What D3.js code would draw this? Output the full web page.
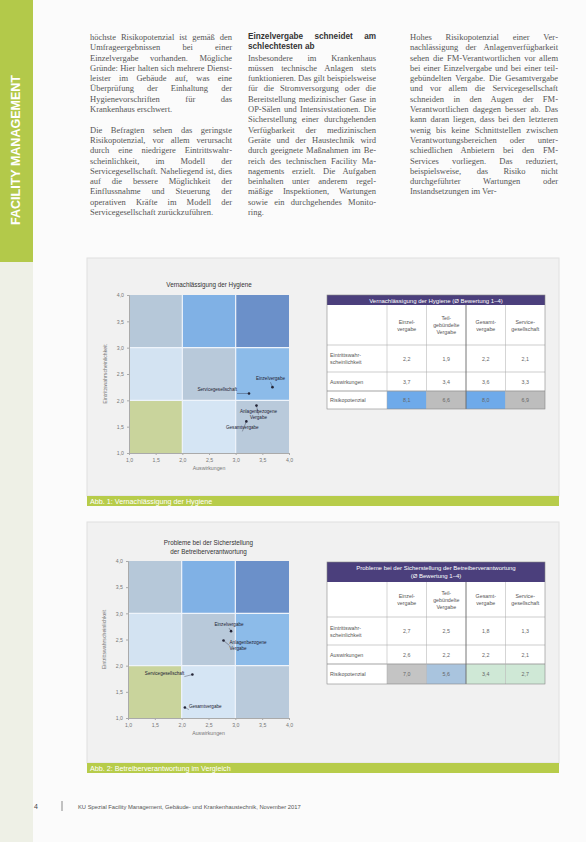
<!DOCTYPE html>
<html><head><meta charset="utf-8">
<script src="https://cdn.jsdelivr.net/npm/d3@7"></script>
<style>
body{margin:0;width:586px;height:842px;background:#fbfbfb;font-family:"Liberation Sans",Arial,sans-serif;position:relative;overflow:hidden}
.col{position:absolute;font-family:"Liberation Serif",serif;font-size:8.5px;line-height:10.3px;color:#555;text-align:justify;hyphens:auto;word-break:break-word}
.col p{margin:0 0 10.3px 0}
.col h4{font-family:"Liberation Sans",sans-serif;font-size:8.2px;line-height:10.3px;margin:0;color:#333}
</style></head><body>
<div id="page"></div>
<script>
// Chart data
const ticks = [1.0, 1.5, 2.0, 2.5, 3.0, 3.5, 4.0];
const hygPoints = [
  {name: "Einzelvergabe", x: 3.69, y: 2.25},
  {name: "Servicegesellschaft", x: 3.25, y: 2.13},
  {name: "Anlagenbezogene Vergabe", x: 3.39, y: 1.90},
  {name: "Gesamtvergabe", x: 3.20, y: 1.60}
];
const betPoints = [
  {name: "Einzelvergabe", x: 2.92, y: 2.66},
  {name: "Anlagenbezogene Vergabe", x: 2.78, y: 2.48},
  {name: "Servicegesellschaft", x: 2.20, y: 1.83},
  {name: "Gesamtvergabe", x: 2.06, y: 1.20}
];
const tableCols = ["Einzel-vergabe", "Teil-gebündelte Vergabe", "Gesamt-vergabe", "Service-gesellschaft"];
const tableRows = ["Eintrittswahr-scheinlichkeit", "Auswirkungen", "Risikopotenzial"];
const hygValues = [[2.2, 1.9, 2.2, 2.1], [3.7, 3.4, 3.6, 3.3], [8.1, 6.6, 8.0, 6.9]];
const betValues = [[2.7, 2.5, 1.8, 1.3], [2.6, 2.2, 2.2, 2.1], [7.0, 5.6, 3.4, 2.7]];

const fmt = v => d3.format(".1f")(v).replace(".", ",");
const page = d3.select("#page");

// sidebar
page.append("div").style("position","absolute").style("left","0px").style("top","0px")
  .style("width","33px").style("height","262px").style("background","#b3c94a");
page.append("div").style("position","absolute").style("left","0px").style("top","262px")
  .style("width","33px").style("height","580px").style("background","#eef0e6");
page.append("div").text("FACILITY MANAGEMENT")
  .style("position","absolute").style("left","16px").style("top","150px")
  .style("transform","translate(-50%,-50%) rotate(-90deg)").style("color","#fff")
  .style("font-weight","bold").style("font-size","12.5px").style("white-space","nowrap");

// text columns (soft hyphens help justification)
const cols = [
  {x: 90, w: 142, html: "<p>höchste Risikopotenzial ist gemäß den Umfrageergebnissen bei einer Einzelvergabe vorhanden. Mögliche Gründe: Hier halten sich mehrere Dienst&shy;leister im Gebäude auf, was eine Überprüfung der Einhaltung der Hygienevorschriften für das Krankenhaus erschwert.</p><p>Die Befragten sehen das geringste Risikopotenzial, vor allem verur&shy;sacht durch eine niedrigere Ein&shy;tritts&shy;wahr&shy;schein&shy;lich&shy;keit, im Mo&shy;dell der Servicegesellschaft. Na&shy;heliegend ist, dies auf die bessere Möglichkeit der Einflussnahme und Steuerung der operativen Kräfte im Modell der Servicege&shy;sellschaft zurückzuführen.</p>"},
  {x: 248, w: 128, html: "<h4>Einzelvergabe schneidet am schlechtesten ab</h4><p>Insbesondere im Krankenhaus müssen technische Anlagen stets funktionieren. Das gilt beispiels&shy;weise für die Stromversorgung oder die Bereitstellung medizini&shy;scher Gase in OP-Sälen und Inten&shy;sivstationen. Die Sicherstellung einer durchgehenden Verfügbar&shy;keit der medizinischen Geräte und der Haustechnik wird durch geeignete Maßnahmen im Be&shy;reich des technischen Facility Ma&shy;nagements erzielt. Die Aufgaben beinhalten unter anderem regel&shy;mäßige Inspektionen, Wartungen sowie ein durchgehendes Monito&shy;ring.</p>"},
  {x: 410, w: 148, html: "<p>Hohes Risikopotenzial einer Ver&shy;nachlässigung der Anlagenver&shy;fügbarkeit sehen die FM-Verant&shy;wortlichen vor allem bei einer Einzelvergabe und bei einer teil&shy;gebündelten Vergabe. Die Ge&shy;samtvergabe und vor allem die Servicegesellschaft schneiden in den Augen der FM-Verantwort&shy;lichen dagegen besser ab. Das kann daran liegen, dass bei den letzteren wenig bis keine Schnitt&shy;stellen zwischen Verantwor&shy;tungsbereichen oder unter&shy;schiedlichen Anbietern bei den FM-Services vorliegen. Das redu&shy;ziert, beispielsweise, das Risiko nicht durchgeführter Wartungen oder Instandsetzungen im Ver-</p>"}
];
page.selectAll("div.col").data(cols).enter().append("div").attr("class","col").attr("lang","de")
  .style("left", d => d.x + "px").style("top", "32px").style("width", d => d.w + "px")
  .html(d => d.html);

const svg = page.append("svg").attr("width",586).attr("height",842)
  .style("position","absolute").style("left","0px").style("top","0px");

// panels + captions
[{y: 258, h: 238, cap: "Abb. 1: Vernachlässigung der Hygiene"},
 {y: 522, h: 241, cap: "Abb. 2: Betreiberverantwortung im Vergleich"}].forEach(p => {
  svg.append("rect").attr("x",87).attr("y",p.y).attr("width",472).attr("height",p.h)
    .attr("fill","#f1f1f1").attr("stroke","#e0e0e0");
  svg.append("rect").attr("x",87).attr("y",p.y+p.h).attr("width",472).attr("height",10).attr("fill","#b7cc4a");
  svg.append("text").attr("x",90).attr("y",p.y+p.h+8).attr("font-size",7.2).attr("fill","#fff").text(p.cap);
});

const zoneColors = [
  ["#c9d49c","#d5e5f4","#b9cadb"],
  ["#d3e3f2","#b8c9da","#8cbbe9"],
  ["#b6c8d9","#80b1e5","#6b90c9"]
];

function scatter(cfg){
  const g = svg.append("g");
  const x = d3.scaleLinear().domain([1,4]).range([cfg.x0, cfg.x1]);
  const y = d3.scaleLinear().domain([1,4]).range([cfg.y1, cfg.y0]);
  const cells = [];
  for (let r = 0; r < 3; r++) for (let c = 0; c < 3; c++) cells.push({r, c});
  g.selectAll("rect.z").data(cells).enter().append("rect")
    .attr("x", d => x(1 + d.c)).attr("y", d => y(2 + d.r))
    .attr("width", x(2) - x(1)).attr("height", y(1) - y(2))
    .attr("fill", d => zoneColors[d.r][d.c]);
  g.selectAll("line.g").data([2,3]).enter().append("line")
    .attr("x1", d => x(d)).attr("x2", d => x(d)).attr("y1", y(1)).attr("y2", y(4))
    .attr("stroke","#eef4fb").attr("stroke-width",1.2);
  g.selectAll("line.h").data([2,3]).enter().append("line")
    .attr("y1", d => y(d)).attr("y2", d => y(d)).attr("x1", x(1)).attr("x2", x(4))
    .attr("stroke","#eef4fb").attr("stroke-width",1.2);
  const ax = g.append("g").attr("transform",`translate(0,${y(1)})`)
    .call(d3.axisBottom(x).tickValues(ticks).tickFormat(fmt).tickSize(2));
  const ay = g.append("g").attr("transform",`translate(${x(1)},0)`)
    .call(d3.axisLeft(y).tickValues(ticks).tickFormat(fmt).tickSize(2));
  [ax, ay].forEach(a => {
    a.selectAll("text").attr("font-size",5.2).attr("fill","#777");
    a.selectAll("path,line").attr("stroke","#aaa");
  });
  g.append("text").attr("x", (cfg.x0+cfg.x1)/2).attr("y", y(1)+17).attr("text-anchor","middle")
    .attr("font-size",5.2).attr("fill","#777").text("Auswirkungen");
  g.append("text").attr("transform",`translate(${cfg.x0-22},${(cfg.y0+cfg.y1)/2}) rotate(-90)`)
    .attr("text-anchor","middle").attr("font-size",5.2).attr("fill","#777").text("Eintrittswahrscheinlichkeit");
  g.selectAll("text.t").data(cfg.title).enter().append("text")
    .attr("x", (cfg.x0+cfg.x1)/2).attr("y", (d,i) => cfg.ty + i*9).attr("text-anchor","middle")
    .attr("font-size",6.3).attr("fill","#333").text(d => d);
  const pts = g.selectAll("g.p").data(cfg.points).enter().append("g")
    .attr("transform", d => `translate(${x(d.x)},${y(d.y)})`);
  pts.append("circle").attr("r",1.3).attr("fill","#223");
  pts.each(function(d, i){
    const l = cfg.labels[i];
    const s = d3.select(this);
    s.append("line").attr("x1",0).attr("y1",0).attr("x2",l[0]).attr("y2",l[1]+2).attr("stroke","#334").attr("stroke-width",0.4);
    d.name.split(" ").forEach((w, k) => s.append("text").attr("x", l[0]).attr("y", l[1] + k*6)
      .attr("text-anchor", l[2]).attr("font-size",4.6).attr("fill","#223").text(w));
  });
}

scatter({x0:129, x1:289, y0:295, y1:453, ty:287, title:["Vernachlässigung der Hygiene"],
  points: hygPoints, labels: [[-2,-7,"middle"],[-12,-2,"end"],[2,7,"middle"],[-4,8,"middle"]]});
scatter({x0:128, x1:289, y0:561, y1:718, ty:545, title:["Probleme bei der Sicherstellung","der Betreiberverantwortung"],
  points: betPoints, labels: [[-2,-5,"middle"],[6,3,"start"],[-8,0,"end"],[4,0,"start"]]});

function table(cfg){
  const g = svg.append("g");
  const labW = 60, cw = (cfg.x1 - cfg.x0 - labW) / 4;
  const cx = i => cfg.x0 + labW + i*cw;
  g.append("rect").attr("x",cfg.x0).attr("y",cfg.y0).attr("width",cfg.x1-cfg.x0).attr("height",cfg.hh).attr("fill","#4b3f7c");
  g.selectAll("text.h").data(cfg.title).enter().append("text").attr("x",(cfg.x0+cfg.x1)/2)
    .attr("y",(d,i)=>cfg.y0+7.5+i*8).attr("text-anchor","middle").attr("fill","#fff").attr("font-size",6).text(d=>d);
  g.append("rect").attr("x",cfg.x0).attr("y",cfg.y0+cfg.hh).attr("width",cfg.x1-cfg.x0)
    .attr("height",cfg.rows[3]-cfg.y0-cfg.hh).attr("fill","#fff");
  tableCols.forEach((c,i) => {
    const lines = c.replace("-", "-|").split(/\||\s/);
    lines.forEach((w,k) => g.append("text").attr("x", cx(i)+cw/2)
      .attr("y", (cfg.y0+cfg.hh+cfg.rows[0])/2 + (k-(lines.length-1)/2)*7 + 2)
      .attr("text-anchor","middle").attr("font-size",5.3).attr("fill","#555").text(w));
  });
  tableRows.forEach((r,ri) => {
    const yt = cfg.rows[ri], yb = cfg.rows[ri+1];
    if (ri === 2) cfg.riskFill.forEach((f,ci) => g.append("rect").attr("x",cx(ci)).attr("y",yt)
      .attr("width",cw).attr("height",yb-yt).attr("fill",f));
    g.append("line").attr("x1",cfg.x0).attr("x2",cfg.x1).attr("y1",yt).attr("y2",yt).attr("stroke","#999").attr("stroke-width",ri===2?0.9:0.5);
    const lines = r.indexOf("-") > 0 ? [r.split("-")[0]+"-", r.split("-")[1]] : [r];
    lines.forEach((w,k) => g.append("text").attr("x",cfg.x0+3)
      .attr("y",(yt+yb)/2 + (k-(lines.length-1)/2)*7 + 2).attr("font-size",5.3).attr("fill","#555").text(w));
    cfg.values[ri].forEach((v,ci) => g.append("text").attr("x",cx(ci)+cw/2).attr("y",(yt+yb)/2+2)
      .attr("text-anchor","middle").attr("font-size",5.3).attr("fill","#666").text(fmt(v)));
  });
  [0,1,2,3].forEach(i => g.append("line").attr("x1",cx(i)).attr("x2",cx(i)).attr("y1",cfg.y0+cfg.hh).attr("y2",cfg.rows[3])
    .attr("stroke", i===2 ? "#666" : "#aaa").attr("stroke-width", i===2 ? 0.9 : 0.5));
  g.append("rect").attr("x",cfg.x0).attr("y",cfg.y0).attr("width",cfg.x1-cfg.x0).attr("height",cfg.rows[3]-cfg.y0)
    .attr("fill","none").attr("stroke","#888").attr("stroke-width",0.6);
}

table({x0:327, x1:545, y0:295, hh:10, title:["Vernachlässigung der Hygiene (Ø Bewertung 1–4)"],
  rows:[345,372,391,409], values: hygValues, riskFill:["#6eaaea","#bdbdbd","#6eaaea","#bdbdbd"]});
table({x0:327, x1:545, y0:562, hh:20, title:["Probleme bei der Sicherstellung der Betreiberverantwortung","(Ø Bewertung 1–4)"],
  rows:[617,645,664,684], values: betValues, riskFill:["#c4c4c4","#a9c4de","#cfe8d6","#cfe8d6"]});

// footer
svg.append("text").attr("x",34).attr("y",809).attr("font-size",7).attr("fill","#444").text("4");
svg.append("line").attr("x1",62).attr("x2",62).attr("y1",801).attr("y2",811).attr("stroke","#888");
svg.append("text").attr("x",78).attr("y",809).attr("font-size",5.8).attr("fill","#555")
  .text("KU Spezial Facility Management, Gebäude- und Krankenhaustechnik, November 2017");
</script>
</body></html>
